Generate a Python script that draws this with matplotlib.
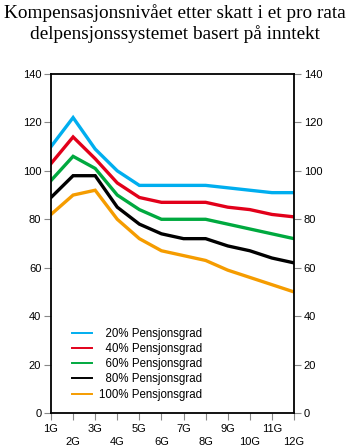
import matplotlib
matplotlib.use("Agg")
import matplotlib.pyplot as plt
from matplotlib.lines import Line2D

groups = ["1G", "2G", "3G", "4G", "5G", "6G", "7G", "8G", "9G", "10G", "11G", "12G"]
grad20 = [110, 122, 109, 100, 94, 94, 94, 94, 93, 92, 91, 91]
grad40 = [103, 114, 105, 95, 89, 87, 87, 87, 85, 84, 82, 81]
grad60 = [96, 106, 101, 90, 84, 80, 80, 80, 78, 76, 74, 72]
grad80 = [89, 98, 98, 85, 78, 74, 72, 72, 69, 67, 64, 62]
grad100 = [82, 90, 92, 80, 72, 67, 65, 63, 59, 56, 53, 50]

labels = ["  20% Pensjonsgrad", "  40% Pensjonsgrad", "  60% Pensjonsgrad",
          "  80% Pensjonsgrad", "100% Pensjonsgrad"]
colors = ["#00aeef", "#e2001a", "#00a93f", "#000000", "#f59c00"]

plt.rcParams['font.family'] = ['Liberation Sans', 'DejaVu Sans']

fig = plt.figure(figsize=(3.5, 4.47), dpi=100)
ax = fig.add_axes([51/350, 34/447, 243/350, 339/447])

x = list(range(1, len(groups) + 1))
for series, c in zip([grad20, grad40, grad60, grad80, grad100], colors):
    ax.plot(x, series, color=c, lw=2.4, solid_joinstyle='miter')

ax.set_xlim(1, 12)
ax.set_ylim(0, 140)
ax.set_yticks(range(0, 141, 20))
ax.set_xticks(x)
ax.set_xticklabels([g if i % 2 == 0 else "\n" + g for i, g in enumerate(groups)])

for s in ax.spines.values():
    s.set_linewidth(1.3)
ax.tick_params(axis='both', colors='#888888', labelcolor='black', labelsize=8,
               length=5, width=0.8, direction='out', pad=2)
ax.tick_params(axis='y', right=True, labelright=True)
ax.tick_params(axis='x', pad=3)
for t in ax.get_xticklabels():
    t.set_linespacing(1.35)

# legend in the lower left corner
handles = [Line2D([], [], color=c, lw=1.4) for c in colors]
ax.legend(handles, labels, loc='lower left', bbox_to_anchor=(0.045, 0.006),
          frameon=False, fontsize=8.3, handlelength=1.75, handletextpad=0.6,
          labelspacing=0.28)

# title, two lines placed separately
title_lines = ["Kompensasjonsnivået etter skatt i et pro rata",
               "delpensjonssystemet basert på inntekt"]
for i, line in enumerate(title_lines):
    fig.text(0.5, 1 - (18 + 21 * i) / 447, line, ha='center', va='baseline',
             family='Liberation Serif', fontsize=13.9)

fig.savefig("out.png", dpi=100)
